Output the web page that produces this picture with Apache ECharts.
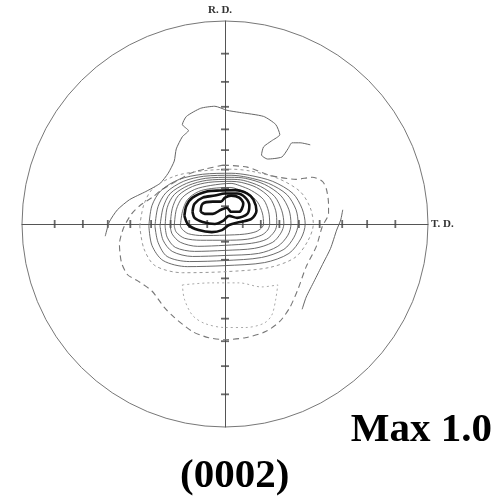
<!DOCTYPE html>
<html><head><meta charset="utf-8">
<script src="https://cdn.jsdelivr.net/npm/echarts/dist/echarts.min.js"></script>
<style>html,body{margin:0;padding:0;background:#fff}#c{width:497px;height:496px}</style>
</head><body><div id="c"></div>
<script>
// pole figure axes: tilt angles (deg) of the tick marks along R.D. and T.D.
const tickTilts = [10, 20, 30, 40, 50, 60, 70, 80];
const rdLabel = 'R. D.';
const tdLabel = 'T. D.';
const maxLabel = 'Max 1.0';
const planeLabel = '(0002)';

// contour lines, coordinates in units of the projection radius (T.D., R.D.)
const thickCore1 = [[-0.12,0.06],[-0.11,0.10],[-0.06,0.11],[-0.02,0.11],[0,0.13],[0.03,0.14],[0.07,0.13],[0.09,0.10],[0.07,0.06],[0.03,0.06],[0.01,0.08],[-0.02,0.07],[-0.06,0.05],[-0.10,0.05]];
const thickCore2 = [[-0.16,0.06],[-0.15,0.10],[-0.11,0.13],[-0.05,0.14],[0,0.15],[0.06,0.15],[0.10,0.13],[0.12,0.09],[0.11,0.05],[0.06,0.03],[0.02,0.04],[-0.01,0.015],[-0.05,0],[-0.11,0.01],[-0.15,0.03]];
const thickCore3 = [[-0.20,0.04],[-0.19,0.09],[-0.16,0.13],[-0.09,0.16],[-0.025,0.165],[0.05,0.167],[0.11,0.15],[0.14,0.12],[0.155,0.065],[0.13,0.025],[0.075,0.01],[0.02,-0.005],[-0.015,-0.03],[-0.065,-0.04],[-0.13,-0.03],[-0.18,-0.005]];

const thin1 = [[-0.22,-0.01],[-0.21,0.06],[-0.185,0.12],[-0.13,0.16],[-0.065,0.175],[0.03,0.18],[0.057,0.173],[0.114,0.151],[0.16,0.108],[0.184,0.054],[0.19,0],[0.18,-0.019],[0.152,-0.038],[0.095,-0.05],[0,-0.055],[-0.11,-0.057],[-0.18,-0.048],[-0.21,-0.027]];
const thin2 = [[-0.25,-0.01],[-0.24,0.07],[-0.21,0.13],[-0.15,0.17],[-0.07,0.19],[0.03,0.20],[0.07,0.19],[0.13,0.165],[0.19,0.12],[0.215,0.06],[0.22,0],[0.21,-0.03],[0.18,-0.055],[0.11,-0.075],[0,-0.08],[-0.12,-0.08],[-0.20,-0.07],[-0.24,-0.04]];
const thin3 = [[-0.27,-0.01],[-0.26,0.075],[-0.23,0.14],[-0.16,0.185],[-0.08,0.205],[0.03,0.21],[0.08,0.205],[0.155,0.18],[0.22,0.13],[0.25,0.065],[0.255,0],[0.245,-0.035],[0.205,-0.075],[0.13,-0.095],[0,-0.105],[-0.135,-0.11],[-0.22,-0.09],[-0.26,-0.05]];
const thin4 = [[-0.295,-0.01],[-0.285,0.08],[-0.25,0.145],[-0.18,0.19],[-0.09,0.215],[0.03,0.22],[0.09,0.215],[0.175,0.185],[0.245,0.135],[0.28,0.065],[0.29,0],[0.275,-0.045],[0.235,-0.09],[0.145,-0.12],[0,-0.13],[-0.15,-0.135],[-0.245,-0.115],[-0.285,-0.065]];
const thin5 = [[-0.32,-0.01],[-0.305,0.08],[-0.27,0.15],[-0.19,0.20],[-0.095,0.225],[0.03,0.23],[0.10,0.225],[0.195,0.195],[0.275,0.14],[0.315,0.07],[0.325,0],[0.31,-0.055],[0.26,-0.11],[0.165,-0.145],[0,-0.155],[-0.16,-0.16],[-0.26,-0.135],[-0.305,-0.08]];
const thin6 = [[-0.345,-0.01],[-0.33,0.085],[-0.29,0.155],[-0.205,0.21],[-0.105,0.235],[0.03,0.24],[0.11,0.23],[0.215,0.20],[0.305,0.145],[0.35,0.07],[0.36,0],[0.34,-0.065],[0.29,-0.125],[0.18,-0.165],[0,-0.18],[-0.175,-0.185],[-0.285,-0.16],[-0.33,-0.09]];
const thin7 = [[-0.375,-0.01],[-0.36,0.09],[-0.315,0.165],[-0.225,0.22],[-0.11,0.245],[0.03,0.25],[0.12,0.24],[0.235,0.21],[0.335,0.15],[0.38,0.075],[0.395,0],[0.375,-0.07],[0.315,-0.145],[0.195,-0.19],[0,-0.205],[-0.185,-0.21],[-0.305,-0.18],[-0.36,-0.105]];

const dottedE = [[-0.42,-0.01],[-0.40,0.095],[-0.355,0.175],[-0.25,0.235],[-0.125,0.26],[0.03,0.27],[0.13,0.26],[0.26,0.225],[0.37,0.16],[0.42,0.08],[0.435,0],[0.41,-0.08],[0.345,-0.165],[0.215,-0.215],[0,-0.235],[-0.21,-0.24],[-0.345,-0.205],[-0.40,-0.12]];
const dottedLow = [[-0.21,-0.30],[-0.07,-0.29],[0.07,-0.29],[0.18,-0.31],[0.26,-0.30],[0.25,-0.37],[0.23,-0.45],[0.19,-0.49],[0.10,-0.51],[0,-0.51],[-0.10,-0.49],[-0.16,-0.45],[-0.20,-0.37]];
const dashedC = [[-0.01,0.29],[0.11,0.28],[0.22,0.24],[0.35,0.22],[0.43,0.23],[0.48,0.21],[0.50,0.17],[0.51,0.10],[0.51,0.05],[0.48,-0.01],[0.45,-0.11],[0.40,-0.21],[0.36,-0.32],[0.32,-0.41],[0.27,-0.48],[0.20,-0.53],[0.10,-0.56],[0,-0.57],[-0.08,-0.56],[-0.16,-0.53],[-0.25,-0.46],[-0.30,-0.41],[-0.36,-0.33],[-0.43,-0.28],[-0.48,-0.25],[-0.51,-0.19],[-0.52,-0.10],[-0.50,-0.02],[-0.46,0.05],[-0.42,0.09],[-0.36,0.13],[-0.31,0.17],[-0.24,0.21],[-0.17,0.25],[-0.10,0.27]];

const openA = [[-0.59,-0.06],[-0.57,0.01],[-0.53,0.07],[-0.47,0.12],[-0.39,0.16],[-0.32,0.20],[-0.28,0.25],[-0.25,0.31],[-0.24,0.37],[-0.21,0.43],[-0.18,0.46],[-0.21,0.49],[-0.19,0.53],[-0.12,0.57],[-0.05,0.58],[0.01,0.56],[0.07,0.55],[0.19,0.53],[0.25,0.49],[0.27,0.44],[0.23,0.41],[0.19,0.38],[0.18,0.34],[0.21,0.32],[0.28,0.33],[0.31,0.37],[0.33,0.40],[0.37,0.40],[0.42,0.39]];
const openB = [[0.58,0.07],[0.57,0.02],[0.55,-0.03],[0.52,-0.12],[0.48,-0.20],[0.44,-0.28],[0.40,-0.36],[0.38,-0.42]];

const closeLoop = d => d.concat([d[0]]);
const lineSeries = (d, color, width, type, smooth) => ({
  type: 'line', data: d, showSymbol: false, smooth: smooth, silent: true,
  lineStyle: { color: color, width: width, type: type }, z: 5
});

const tickR = tickTilts.map(t => Math.tan(t * Math.PI / 360));
const hTicks = tickR.flatMap(r => [[r, 0], [-r, 0]]);
const vTicks = tickR.flatMap(r => [[0, r], [0, -r]]);

const series = [
  { type: 'scatter', data: hTicks, symbol: 'rect', symbolSize: [1.8, 8], itemStyle: { color: '#444' }, silent: true, z: 3 },
  { type: 'scatter', data: vTicks, symbol: 'rect', symbolSize: [8, 1.8], itemStyle: { color: '#444' }, silent: true, z: 3 },
  lineSeries(openA, '#666', 1, 'solid', 0.2),
  lineSeries(openB, '#666', 1, 'solid', 0.2),
  lineSeries(closeLoop(dashedC), '#777', 1.1, [6, 4], 0.25),
  lineSeries(closeLoop(dottedLow), '#aaa', 1, [2, 3], 0.3),
  lineSeries(closeLoop(dottedE), '#999', 1, [3, 3], 0.3),
  ...[thin7, thin6, thin5, thin4, thin3, thin2, thin1].map(d => lineSeries(closeLoop(d), '#5a5a5a', 0.9, 'solid', 0.3)),
  lineSeries(closeLoop(thickCore3), '#111', 2.6, 'solid', 0.3),
  lineSeries(closeLoop(thickCore2), '#111', 2.6, 'solid', 0.3),
  lineSeries(closeLoop(thickCore1), '#111', 2.6, 'solid', 0.3)
];

const chart = echarts.init(document.getElementById('c'), null, { renderer: 'canvas' });
chart.setOption({
  animation: false,
  backgroundColor: '#fff',
  title: [
    { text: maxLabel, right: 5, top: 410, padding: 0,
      textStyle: { fontFamily: 'Liberation Serif', fontWeight: 'bold', fontSize: 41, color: '#000' } },
    { text: planeLabel, left: 180, top: 456, padding: 0,
      textStyle: { fontFamily: 'Liberation Serif', fontWeight: 'bold', fontSize: 41, color: '#000' } }
  ],
  polar: { center: [225, 224], radius: 203 },
  angleAxis: { type: 'value', min: 0, max: 360, axisLine: { show: true, lineStyle: { color: '#777', width: 1 } },
    axisTick: { show: false }, axisLabel: { show: false }, splitLine: { show: false } },
  radiusAxis: { type: 'value', min: 0, max: 1, show: false },
  grid: { left: 22, top: 21, width: 406, height: 406 },
  xAxis: { type: 'value', min: -1, max: 1, name: tdLabel, nameLocation: 'end', nameGap: 3,
    nameTextStyle: { fontFamily: 'Liberation Serif', fontSize: 11, color: '#333', fontWeight: 'bold' },
    axisLine: { onZero: true, lineStyle: { color: '#555', width: 1 } },
    axisTick: { show: false }, axisLabel: { show: false }, splitLine: { show: false } },
  yAxis: { type: 'value', min: -1, max: 1, name: rdLabel, nameLocation: 'end', nameGap: 5,
    nameTextStyle: { fontFamily: 'Liberation Serif', fontSize: 11, color: '#333', fontWeight: 'bold', padding: [0, 10, 0, 0] },
    axisLine: { onZero: true, lineStyle: { color: '#555', width: 1 } },
    axisTick: { show: false }, axisLabel: { show: false }, splitLine: { show: false } },
  series: series
});
</script>
</body></html>
